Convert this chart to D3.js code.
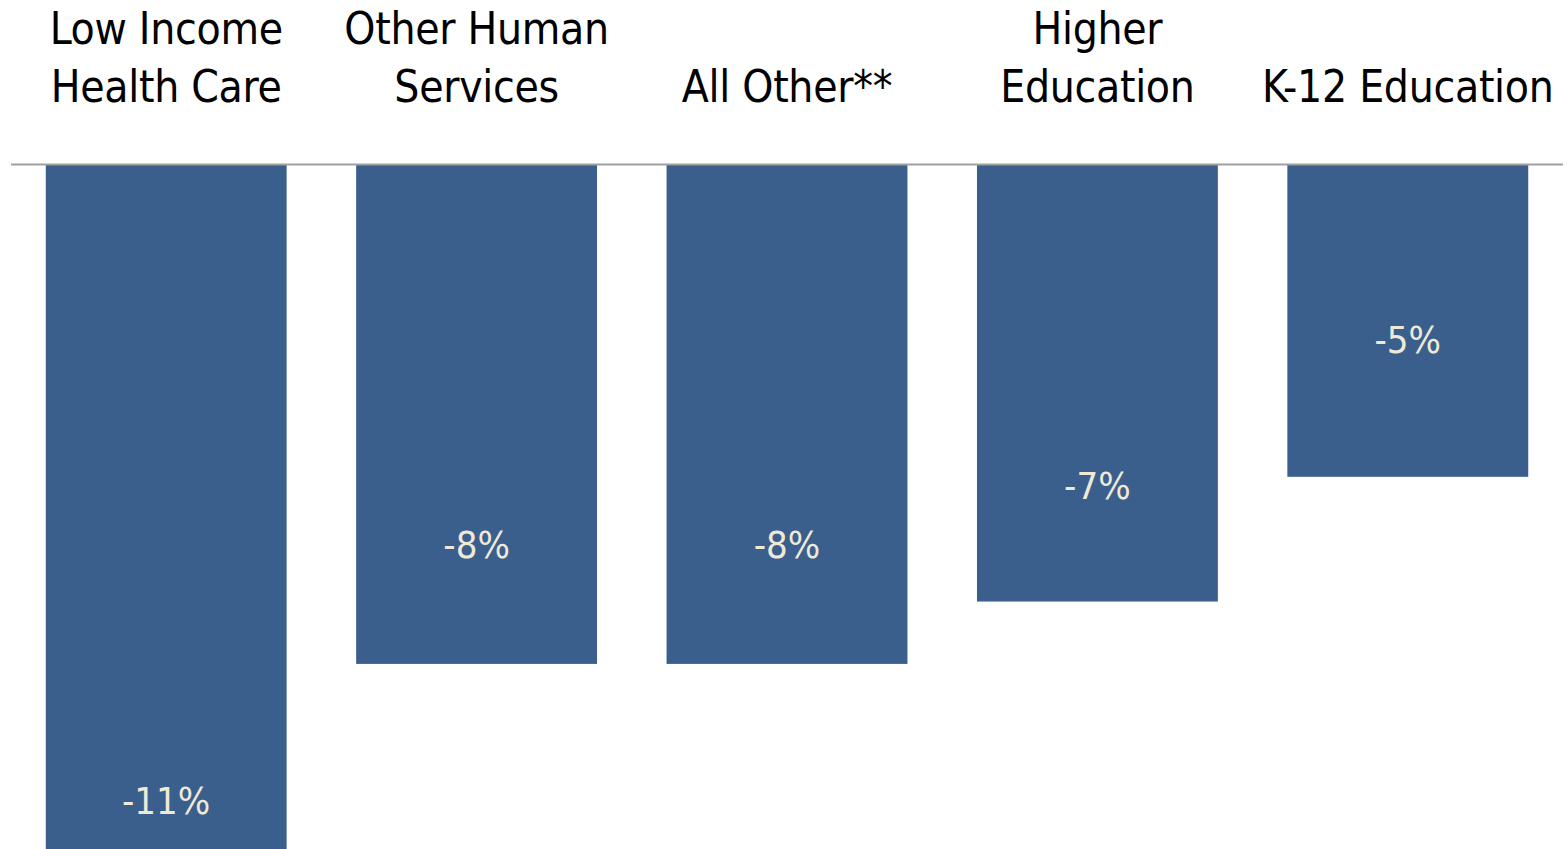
<!DOCTYPE html>
<html>
<head>
<meta charset="utf-8">
<script src="https://cdn.jsdelivr.net/npm/d3@7"></script>
<style>
  html, body { margin: 0; padding: 0; background: #fff; overflow: hidden; }
  svg text { font-family: "Liberation Sans Narrow", "DejaVu Sans Condensed", "Roboto Condensed", sans-serif; }
</style>
</head>
<body>
<svg id="chart" width="1567" height="849"></svg>
<script>
// data
const categories = ["Low Income|Health Care", "Other Human|Services", "All Other**", "Higher|Education", "K-12 Education"];
const values = [-11, -8, -8, -7, -5];
const valueLabels = ["-11%", "-8%", "-8%", "-7%", "-5%"];
// where each value label sits, measured down from the baseline in % units
const labelDepth = [10.2, 6.1, 6.1, 5.15, 2.8];

const width = 1567, height = 849;
const baseY = 165;

const svg = d3.select("#chart");

const x = d3.scaleBand()
  .domain(categories)
  .range([11, 1563])
  .paddingInner(0.224)
  .paddingOuter(0.112);

const y = d3.scaleLinear()
  .domain([0, -11])
  .range([baseY, baseY + 686]);

// bars
svg.selectAll("rect.bar")
  .data(values)
  .join("rect")
  .attr("class", "bar")
  .attr("x", (d, i) => x(categories[i]))
  .attr("y", y(0))
  .attr("width", x.bandwidth())
  .attr("height", d => y(d) - y(0))
  .attr("fill", "#3b5f8c");

// baseline
svg.append("line")
  .attr("x1", 11).attr("x2", 1563)
  .attr("y1", baseY - 0.5).attr("y2", baseY - 0.5)
  .attr("stroke", "#a0a0a0")
  .attr("stroke-width", 2);

// category labels on top
const catG = svg.selectAll("text.cat")
  .data(categories)
  .join("text")
  .attr("class", "cat")
  .attr("text-anchor", "middle")
  .attr("font-size", 44)
  .attr("letter-spacing", -0.3)
  .attr("fill", "#000");

catG.each(function(d) {
  const lines = d.split("|");
  const cx = x(d) + x.bandwidth() / 2;
  const t = d3.select(this);
  // last line always on the lower row
  const rows = lines.length === 1 ? [102] : [44, 102];
  lines.forEach((ln, j) => {
    t.append("tspan").attr("x", cx).attr("y", rows[j]).text(ln);
  });
});

// value labels
svg.selectAll("text.val")
  .data(valueLabels)
  .join("text")
  .attr("class", "val")
  .attr("text-anchor", "middle")
  .attr("dominant-baseline", "central")
  .attr("x", (d, i) => x(categories[i]) + x.bandwidth() / 2)
  .attr("y", (d, i) => y(-labelDepth[i]))
  .attr("font-size", 38)
  .attr("fill", "#efe9d8")
  .text(d => d);
</script>
</body>
</html>
